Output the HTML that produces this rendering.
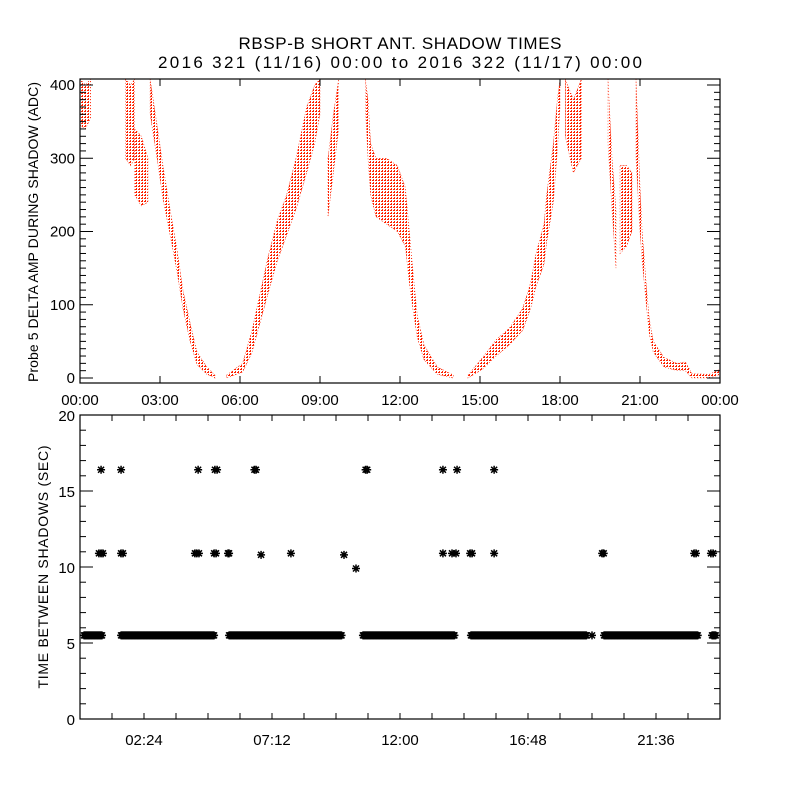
<!DOCTYPE html>
<html><head><meta charset="utf-8"><style>
body{margin:0;background:#fff;width:800px;height:800px;overflow:hidden}
svg text{font-family:"Liberation Sans",sans-serif;fill:#000}
</style></head><body>
<svg id="c" width="800" height="800" viewBox="0 0 800 800">
<defs><pattern id="dots" width="3" height="3" patternUnits="userSpaceOnUse"><rect x="0" y="0" width="2" height="1" fill="#ff2200"/><rect x="1" y="2" width="1" height="1" fill="#ff2200"/></pattern>
<clipPath id="topclip"><rect x="80" y="79" width="640" height="304"/></clipPath></defs>
<text x="400" y="49" font-size="17" text-anchor="middle" textLength="323">RBSP-B SHORT ANT. SHADOW TIMES</text>
<text x="400" y="68" font-size="17" text-anchor="middle" textLength="484">2016 321 (11/16) 00:00 to 2016 322 (11/17) 00:00</text>
<g id="topPanel"></g>
<g id="botPanel"></g>
<text transform="translate(38,232) rotate(-90)" font-size="14" text-anchor="middle" textLength="300">Probe 5 DELTA AMP DURING SHADOW (ADC)</text>
<text transform="translate(48,567) rotate(-90)" font-size="14" text-anchor="middle" textLength="243">TIME BETWEEN SHADOWS (SEC)</text>
</svg>
<script>
// ---- top panel data (hour, low ADC, high ADC, segment id)
const bandHours=[0,0.2,0.4, 1.7,1.9,2.05, 2.05,2.3,2.55, 2.63,2.89,3.11,3.38,3.64,3.86,4.13,4.39,4.76,5.06, 5.5,6.1,6.45,6.75,7.05,7.4,7.75,8.1,8.5,8.8,9.0, 9.3,9.5,9.7, 10.7,10.8,10.9,11.1,11.5,11.9,12.2,12.35,12.5,12.65,12.9,13.4,14.0, 14.55,15.1,15.6,16.1,16.6,16.9,17.1,17.4,17.5,17.75,17.9,18.0, 18.2,18.5,18.8, 19.8,19.95,20.1, 20.25,20.5,20.7, 20.85,21.0,21.08,21.25,21.35,21.5,21.9,22.4,22.7,22.95,23.6,24];
const bandLo=[345,340,355, 300,290,300, 250,235,240, 360,300,245,195,145,95,50,18,5,0, 0,8,35,75,115,160,195,230,280,320,360, 220,280,340, 370,300,250,220,210,200,180,130,90,55,25,5,0, 0,12,30,45,65,95,125,155,185,240,310,370, 330,280,300, 320,230,150, 170,180,200, 300,200,160,95,60,35,15,10,10,0,0,5];
const bandHi=[408,400,408, 408,400,408, 340,330,300, 408,345,290,230,175,120,75,35,15,4, 4,20,65,115,165,215,250,300,370,400,408, 300,360,408, 408,380,320,300,300,290,260,200,140,85,45,15,4, 4,28,52,68,95,130,170,210,250,320,380,408, 408,380,408, 408,300,230, 290,290,280, 408,260,200,120,80,50,28,20,22,6,5,12];
const bandGroup=[0,0,0, 1,1,1, 2,2,2, 3,3,3,3,3,3,3,3,3,3, 4,4,4,4,4,4,4,4,4,4,4, 5,5,5, 6,6,6,6,6,6,6,6,6,6,6,6,6, 7,7,7,7,7,7,7,7,7,7,7,7, 8,8,8, 9,9,9, 10,10,10, 11,11,11,11,11,11,11,11,11,11,11,11];
const topXTicks=["00:00","03:00","06:00","09:00","12:00","15:00","18:00","21:00","00:00"];
const topYTicks=[0,100,200,300,400];
// ---- bottom panel data
const baseValue=5.5;
const baseStart=[0.15,1.54,5.59,10.61,14.66,19.65,23.7];
const baseEnd=[0.83,5.03,9.83,14.06,19.01,23.18,23.85];
const ptHours=[0.71,0.79,0.86,1.54,1.61,4.31,4.38,4.46,5.03,5.1,5.55,5.59,6.79,7.91,9.9,13.61,13.95,14.1,14.63,14.7,15.53,19.58,19.64,23.03,23.1,23.66,23.74, 0.79,1.54,4.43,5.06,5.14,6.54,6.6,10.71,10.77,13.61,14.14,15.53, 10.35,19.2];
const ptValues=[10.9,10.9,10.9,10.9,10.9,10.9,10.9,10.9,10.9,10.9,10.9,10.9,10.8,10.9,10.8,10.9,10.9,10.9,10.9,10.9,10.9,10.9,10.9,10.9,10.9,10.9,10.9, 16.4,16.4,16.4,16.4,16.4,16.4,16.4,16.4,16.4,16.4,16.4,16.4, 9.9,5.5];
const botXTicks=["02:24","07:12","12:00","16:48","21:36"];
const botYTicks=[0,5,10,15,20];

const NS="http://www.w3.org/2000/svg";
function mk(tag,attrs,parent){const e=document.createElementNS(NS,tag);for(const k in attrs)e.setAttribute(k,attrs[k]);parent.appendChild(e);return e;}
const xS=h=>80+h*640/24;
const yT=v=>378-v*0.7325;
const yB=v=>719-v*15.2;
const topG=document.getElementById('topPanel'),botG=document.getElementById('botPanel');

const tg=mk('g',{'clip-path':'url(#topclip)'},topG);


const groups=[...new Set(bandGroup)];
groups.forEach(g=>{
  const idx=bandGroup.map((v,i)=>v===g?i:-1).filter(i=>i>=0);
  let pts=idx.map(i=>xS(bandHours[i])+','+yT(bandHi[i]));
  pts=pts.concat(idx.slice().reverse().map(i=>xS(bandHours[i])+','+yT(bandLo[i])));
  const p=mk('polygon',{points:pts.join(' '),fill:'url(#dots)',stroke:'#ff2200','stroke-width':'0.6','stroke-dasharray':'1 2'},tg);
  
  
});
const tb=mk('rect',{x:80,y:79,width:640,height:304,fill:'none',stroke:'#000','stroke-width':1.2},topG);


for(let v=0;v<=400;v+=10){const y=yT(v);const L=(v%100===0)?13:6;
  mk('line',{x1:80,x2:80+L,y1:y,y2:y,stroke:'#000'},topG);mk('line',{x1:720,x2:720-L,y1:y,y2:y,stroke:'#000'},topG);}
topYTicks.forEach(v=>{const t=mk('text',{x:75,y:yT(v)+5,'font-size':15,'text-anchor':'end'},topG);t.textContent=v;
  
  });
topXTicks.forEach((s,i)=>{const x=xS(i*3);
  mk('line',{x1:x,x2:x,y1:383,y2:376,stroke:'#000'},topG);mk('line',{x1:x,x2:x,y1:79,y2:86,stroke:'#000'},topG);
  const t=mk('text',{x:x,y:405,'font-size':15,'text-anchor':'middle'},topG);t.textContent=s;
  
  });

function star(x,y,parent){
  return mk('path',{d:`M${x-4},${y}h8M${x},${y-4}v8M${x-3},${y-3}l6,6M${x-3},${y+3}l6,-6`,stroke:'#000','stroke-width':1.5,fill:'none'},parent);
}
const bg=mk('g',{},botG);


baseStart.forEach((s,i)=>{
  const x0=xS(s),x1=xS(baseEnd[i]);
  for(let x=x0;x<=x1+0.01;x+=0.75){const p=star(x,yB(baseValue),bg);
    
    }
});
ptHours.forEach((h,i)=>{const p=star(xS(h),yB(ptValues[i]),bg);
  
  });
const bb=mk('rect',{x:80,y:415,width:640,height:304,fill:'none',stroke:'#000','stroke-width':1.2},botG);


for(let v=0;v<=20;v++){const y=yB(v);const L=(v%5===0)?13:6;
  mk('line',{x1:80,x2:80+L,y1:y,y2:y,stroke:'#000'},botG);mk('line',{x1:720,x2:720-L,y1:y,y2:y,stroke:'#000'},botG);}
botYTicks.forEach(v=>{const t=mk('text',{x:75,y:yB(v)+6,'font-size':15,'text-anchor':'end'},botG);t.textContent=v;
  
  });
for(let k=1;k<20;k++){const x=xS(k*1.2);
  mk('line',{x1:x,x2:x,y1:719,y2:713,stroke:'#000'},botG);mk('line',{x1:x,x2:x,y1:415,y2:421,stroke:'#000'},botG);}
botXTicks.forEach((s,i)=>{const x=xS(2.4+i*4.8);
  const t=mk('text',{x:x,y:745,'font-size':15,'text-anchor':'middle'},botG);t.textContent=s;
  
  });
</script>
</body></html>
